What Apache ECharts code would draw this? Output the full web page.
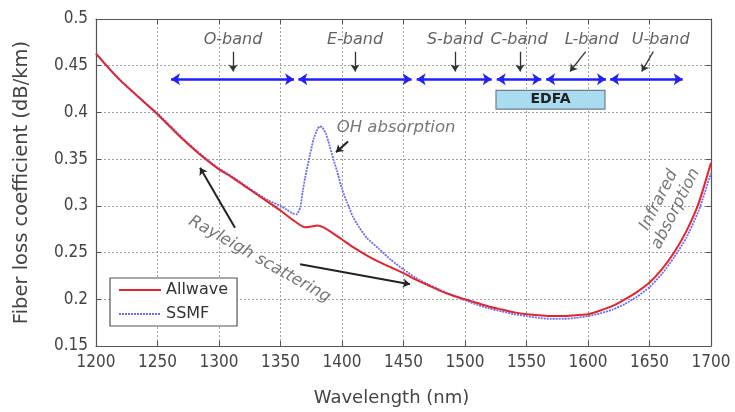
<!DOCTYPE html>
<html><head><meta charset="utf-8">
<script src="https://cdn.jsdelivr.net/npm/echarts@6/dist/echarts.min.js"></script>
<style>html,body{margin:0;padding:0;background:#fff}#c{width:735px;height:412px}</style>
</head><body><div id="c"></div>
<script>
// ---- data ----
const allwaveWl   = [1200,1210,1220,1230,1240,1250,1260,1270,1280,1290,1300,1310,1320,1330,1340,1350,1360,1370,1375,1380,1385,1390,1400,1410,1420,1430,1440,1450,1460,1470,1480,1490,1500,1510,1520,1530,1540,1550,1560,1570,1580,1590,1600,1610,1620,1630,1640,1650,1660,1670,1680,1690,1700];
const allwaveLoss = [0.463,0.448,0.434,0.422,0.410,0.398,0.385,0.372,0.360,0.349,0.339,0.331,0.322,0.313,0.304,0.295,0.285,0.277,0.278,0.279,0.277,0.273,0.264,0.255,0.247,0.240,0.234,0.228,0.221,0.215,0.209,0.204,0.200,0.196,0.192,0.189,0.186,0.184,0.183,0.182,0.182,0.183,0.184,0.188,0.193,0.200,0.208,0.218,0.232,0.250,0.273,0.303,0.346];
const ssmfWl   = [1200,1210,1220,1230,1240,1250,1260,1270,1280,1290,1300,1310,1320,1330,1340,1350,1355,1360,1363,1366,1368,1370,1374,1377,1380,1382,1384,1387,1390,1393,1396,1400,1404,1409,1414,1420,1430,1440,1450,1460,1470,1480,1490,1500,1510,1520,1530,1540,1550,1560,1570,1580,1590,1600,1610,1620,1630,1640,1650,1660,1670,1680,1690,1700];
const ssmfLoss = [0.463,0.448,0.434,0.422,0.410,0.399,0.386,0.373,0.361,0.350,0.340,0.332,0.323,0.314,0.306,0.300,0.296,0.292,0.291,0.298,0.315,0.330,0.355,0.372,0.382,0.385,0.384,0.377,0.364,0.350,0.337,0.318,0.304,0.288,0.277,0.266,0.254,0.242,0.232,0.223,0.216,0.210,0.204,0.199,0.194,0.190,0.187,0.184,0.182,0.180,0.179,0.179,0.180,0.182,0.185,0.189,0.195,0.203,0.213,0.227,0.245,0.266,0.295,0.335];

const xMin = 1200, xMax = 1700, xStep = 50;
const yMin = 0.15, yMax = 0.5, yStep = 0.05;

const bandNames  = ['O-band','E-band','S-band','C-band','L-band','U-band'];
const bandStart  = [1261, 1364.5, 1460.7, 1525.8, 1566, 1618];
const bandEnd    = [1361, 1456.6, 1521.7, 1562, 1614.6, 1677];
const bandArrowY = 0.4356;
const bandLabelX = [1311.4, 1410.6, 1491.9, 1543.9, 1603, 1659.1];
const bandLabelY = 0.4776;
const pointerFromX = [1311.4, 1410.6, 1491.9, 1544.7, 1598.1, 1653.1];
const pointerToX   = [1311.4, 1410.6, 1491.9, 1544.7, 1585.4, 1643.7];
const pointerFromY = 0.4650;
const pointerToY   = 0.4438;

const edfaRange = [1525.2, 1613.8];
const edfaLoss  = [0.4235, 0.4036];

const notes = [
  {text:'OH absorption', x:1444, y:0.3837, rotate:0},
  {text:'Rayleigh scattering', x:1333, y:0.2428, rotate:-29.5},
  {text:'Infrared\nabsorption', x:1664.5, y:0.3015, rotate:63}
];
const noteArrows = [
  [[1404.9,0.369],[1395.1,0.3573]],
  [[1313,0.2766],[1284.6,0.3407]],
  [[1365.9,0.2375],[1455.3,0.2161]]
];

// ---- chart ----
const chart = echarts.init(document.getElementById('c'), null, {renderer:'canvas'});
const FONT = 'DejaVu Sans';
const TICKFONT = 'DejaVu Sans Condensed, DejaVu Sans';
const axisColor = '#555';

const option = {
  animation:false,
  backgroundColor:'#fff',
  grid:{left:96, right:24, top:19, bottom:65, containLabel:false},
  legend:{
    data:['Allwave','SSMF'], orient:'vertical', left:110, top:278,
    borderColor:'#555', borderWidth:1.2, padding:[4,9,4,8],
    itemWidth:42, itemHeight:12, itemGap:8, backgroundColor:'#fff',
    itemStyle:{opacity:0},
    textStyle:{fontFamily:FONT, fontSize:16, color:'#333'}
  },
  xAxis:[{
    type:'value', min:xMin, max:xMax, interval:xStep,
    axisLine:{show:true, onZero:false, lineStyle:{color:axisColor, width:1.2}},
    axisTick:{show:true, inside:true, length:5, lineStyle:{color:axisColor}},
    axisLabel:{color:'#444', fontSize:17, margin:8, fontFamily:TICKFONT, formatter:v=>String(v)},
    splitLine:{show:true, lineStyle:{color:'#a0a0a0', type:[2,2], width:1}},
    name:'Wavelength (nm)', nameLocation:'middle', nameGap:43,
    nameTextStyle:{fontFamily:FONT, fontSize:18, color:'#444', padding:[0,24,0,0]}
  },{
    type:'value', position:'top', min:xMin, max:xMax, interval:xStep,
    axisLine:{show:true, onZero:false, lineStyle:{color:axisColor, width:1.2}},
    axisTick:{show:true, inside:true, length:5, lineStyle:{color:axisColor}},
    axisLabel:{show:false}, splitLine:{show:false}
  }],
  yAxis:[{
    type:'value', min:yMin, max:yMax, interval:yStep,
    axisLine:{show:true, onZero:false, lineStyle:{color:axisColor, width:1.2}},
    axisTick:{show:true, inside:true, length:5, lineStyle:{color:axisColor}},
    axisLabel:{color:'#444', fontSize:17, margin:8, fontFamily:TICKFONT},
    splitLine:{show:true, lineStyle:{color:'#a0a0a0', type:[2,2], width:1}},
    name:'Fiber loss coefficient (dB/km)', nameLocation:'middle', nameGap:64, nameRotate:90,
    nameTextStyle:{fontFamily:FONT, fontSize:19.5, color:'#444'}
  },{
    type:'value', position:'right', min:yMin, max:yMax, interval:yStep,
    axisLine:{show:true, onZero:false, lineStyle:{color:axisColor, width:1.2}},
    axisTick:{show:true, inside:true, length:5, lineStyle:{color:axisColor}},
    axisLabel:{show:false}, splitLine:{show:false}
  }],
  series:[
    {
      name:'SSMF', type:'line', symbol:'none', smooth:0.2, z:3,
      data: ssmfWl.map((w,i)=>[w, ssmfLoss[i]]),
      lineStyle:{color:'#6b6bf5', width:1.8, type:[2,1]},
      itemStyle:{color:'#6b6bf5'}
    },
    {
      name:'Allwave', type:'line', symbol:'none', smooth:0.2, z:4,
      data: allwaveWl.map((w,i)=>[w, allwaveLoss[i]]),
      lineStyle:{color:'#e3242b', width:2},
      itemStyle:{color:'#e3242b'},
      markArea:{
        silent:true,
        itemStyle:{color:'#a9dcf0', borderColor:'#6f7f86', borderWidth:1.2, opacity:1},
        label:{show:true, position:'inside', formatter:'EDFA', color:'#222', fontSize:14, fontWeight:'bold', fontFamily:FONT},
        data:[[{coord:[edfaRange[0], edfaLoss[0]]},{coord:[edfaRange[1], edfaLoss[1]]}]]
      }
    },
    {
      type:'lines', coordinateSystem:'cartesian2d', z:5, silent:true,
      symbol:['arrow','arrow'], symbolSize:[9,9],
      lineStyle:{color:'#1f1fff', width:2.5, opacity:1},
      data: bandNames.map((n,i)=>({coords:[[bandStart[i], bandArrowY],[bandEnd[i], bandArrowY]]}))
    },
    {
      type:'lines', coordinateSystem:'cartesian2d', z:5, silent:true,
      symbol:['none','arrow'], symbolSize:7,
      lineStyle:{color:'#333', width:1.3, opacity:1},
      data: bandNames.map((n,i)=>({coords:[[pointerFromX[i], pointerFromY],[pointerToX[i], pointerToY]]}))
        .concat(noteArrows.map(a=>({coords:a, lineStyle:{width:2, color:'#222'}})))
    },
    {
      type:'scatter', symbolSize:0, z:6, silent:true,
      data: bandNames.map((n,i)=>({value:[bandLabelX[i], bandLabelY], name:n}))
        .concat(notes.map(nt=>({value:[nt.x, nt.y], name:nt.text, label:{rotate:nt.rotate, color:'#555', fontSize:16.5}}))),
      label:{show:true, position:'inside', formatter:p=>p.name, fontFamily:FONT, fontStyle:'italic',
             fontSize:16, color:'#3a3a3a', align:'center', verticalAlign:'middle', lineHeight:19}
    }
  ]
};
chart.setOption(option);
</script>
</body></html>
